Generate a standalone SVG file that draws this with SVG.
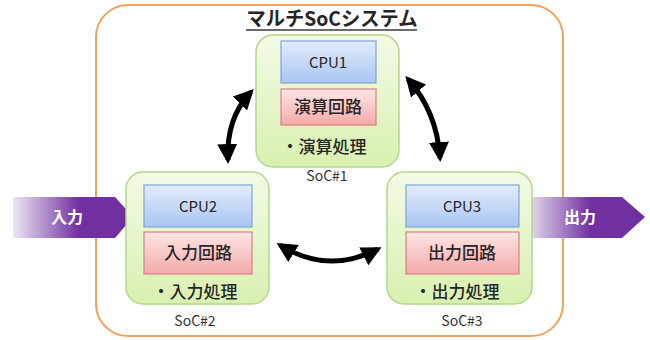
<svg xmlns="http://www.w3.org/2000/svg" width="650" height="340" viewBox="0 0 650 340">
<defs>
<linearGradient id="gGreen" x1="0" y1="0" x2="0" y2="1"><stop offset="0" stop-color="#f3fae6"/><stop offset="1" stop-color="#d9f0b0"/></linearGradient>
<linearGradient id="gBlue" x1="0" y1="0" x2="0" y2="1"><stop offset="0" stop-color="#e2ecfc"/><stop offset="1" stop-color="#a9c5f2"/></linearGradient>
<linearGradient id="gRed" x1="0" y1="0" x2="0" y2="1"><stop offset="0" stop-color="#fde6e6"/><stop offset="1" stop-color="#f5a9a9"/></linearGradient>
<linearGradient id="gIn" x1="13" y1="0" x2="133" y2="0" gradientUnits="userSpaceOnUse"><stop offset="0" stop-color="#ece6f3"/><stop offset="0.55" stop-color="#7030a0"/><stop offset="1" stop-color="#7030a0"/></linearGradient>
<linearGradient id="gOut" x1="525" y1="0" x2="645" y2="0" gradientUnits="userSpaceOnUse"><stop offset="0" stop-color="#ece6f3"/><stop offset="0.55" stop-color="#7030a0"/><stop offset="1" stop-color="#7030a0"/></linearGradient>
<marker id="ah" viewBox="0 0 10 10" refX="8" refY="5" markerWidth="4" markerHeight="4" orient="auto-start-reverse" markerUnits="strokeWidth"><path d="M0,0 L10,5 L0,10 Z" fill="#000"/></marker>
<style>
.soc{fill:url(#gGreen);stroke:#b3d88a;stroke-width:1.5}
.cpu{fill:url(#gBlue);stroke:#7fa3d9;stroke-width:1.2}
.ckt{fill:url(#gRed);stroke:#d98080;stroke-width:1.2}
.t{font-family:"Noto Sans CJK JP","Noto Sans",sans-serif;fill:#262626;text-anchor:middle}
.cpuT{font-size:15px}
.cktT{font-size:17px;font-weight:500}
.lbl{font-size:14px;fill:#333}
.io{font-family:"Noto Sans CJK JP",sans-serif;font-size:16px;font-weight:bold;fill:#fff;text-anchor:middle}
.conn{fill:none;stroke:#000;stroke-width:5;marker-start:url(#ah);marker-end:url(#ah)}
</style>
</defs>
<rect x="96" y="5" width="467" height="331" rx="32" fill="#fff" stroke="#f5a05a" stroke-width="2"/>
<text x="332" y="26" class="t" font-size="20" font-weight="bold" fill="#3a3a3a" textLength="171" lengthAdjust="spacingAndGlyphs">マルチSoCシステム</text>
<line x1="246" y1="30" x2="417" y2="30" stroke="#3a3a3a" stroke-width="1.5"/>

<g id="input">
<path d="M13,197 L115,197 L133,217 L115,238 L13,238 Z" fill="url(#gIn)"/>
<text x="67" y="223" class="io">入力</text>
</g>
<g id="output">
<path d="M525,197 L622,197 L645,217 L622,238 L525,238 Z" fill="url(#gOut)"/>
<text x="580" y="223" class="io">出力</text>
</g>

<g id="soc1">
<rect x="256" y="35" width="143" height="132" rx="17" class="soc"/>
<rect x="281" y="41" width="95" height="42" class="cpu"/>
<text x="328" y="68" class="t cpuT">CPU1</text>
<rect x="281" y="89" width="95" height="36" class="ckt"/>
<text x="328" y="113" class="t cktT">演算回路</text>
<text x="324" y="153" class="t cktT">・演算処理</text>
<text x="327" y="181" class="t lbl">SoC#1</text>
</g>
<g id="soc2">
<rect x="126" y="172" width="143" height="132" rx="17" class="soc"/>
<rect x="144" y="185" width="108" height="42" class="cpu"/>
<text x="198" y="212" class="t cpuT">CPU2</text>
<rect x="144" y="232" width="108" height="42" class="ckt"/>
<text x="198" y="259" class="t cktT">入力回路</text>
<text x="195" y="298" class="t cktT">・入力処理</text>
<text x="195" y="326" class="t lbl">SoC#2</text>
</g>
<g id="soc3">
<rect x="387" y="172" width="145" height="132" rx="17" class="soc"/>
<rect x="406" y="185" width="113" height="42" class="cpu"/>
<text x="462" y="212" class="t cpuT">CPU3</text>
<rect x="406" y="232" width="113" height="42" class="ckt"/>
<text x="462" y="259" class="t cktT">出力回路</text>
<text x="457" y="298" class="t cktT">・出力処理</text>
<text x="462" y="326" class="t lbl">SoC#3</text>
</g>

<g id="connectors">
<path class="conn" d="M251,92 Q226,118 228,160"/>
<path class="conn" d="M408,79 Q437,112 440,158"/>
<path class="conn" d="M280,245 Q328,275 378,249"/>
</g>
</svg>
